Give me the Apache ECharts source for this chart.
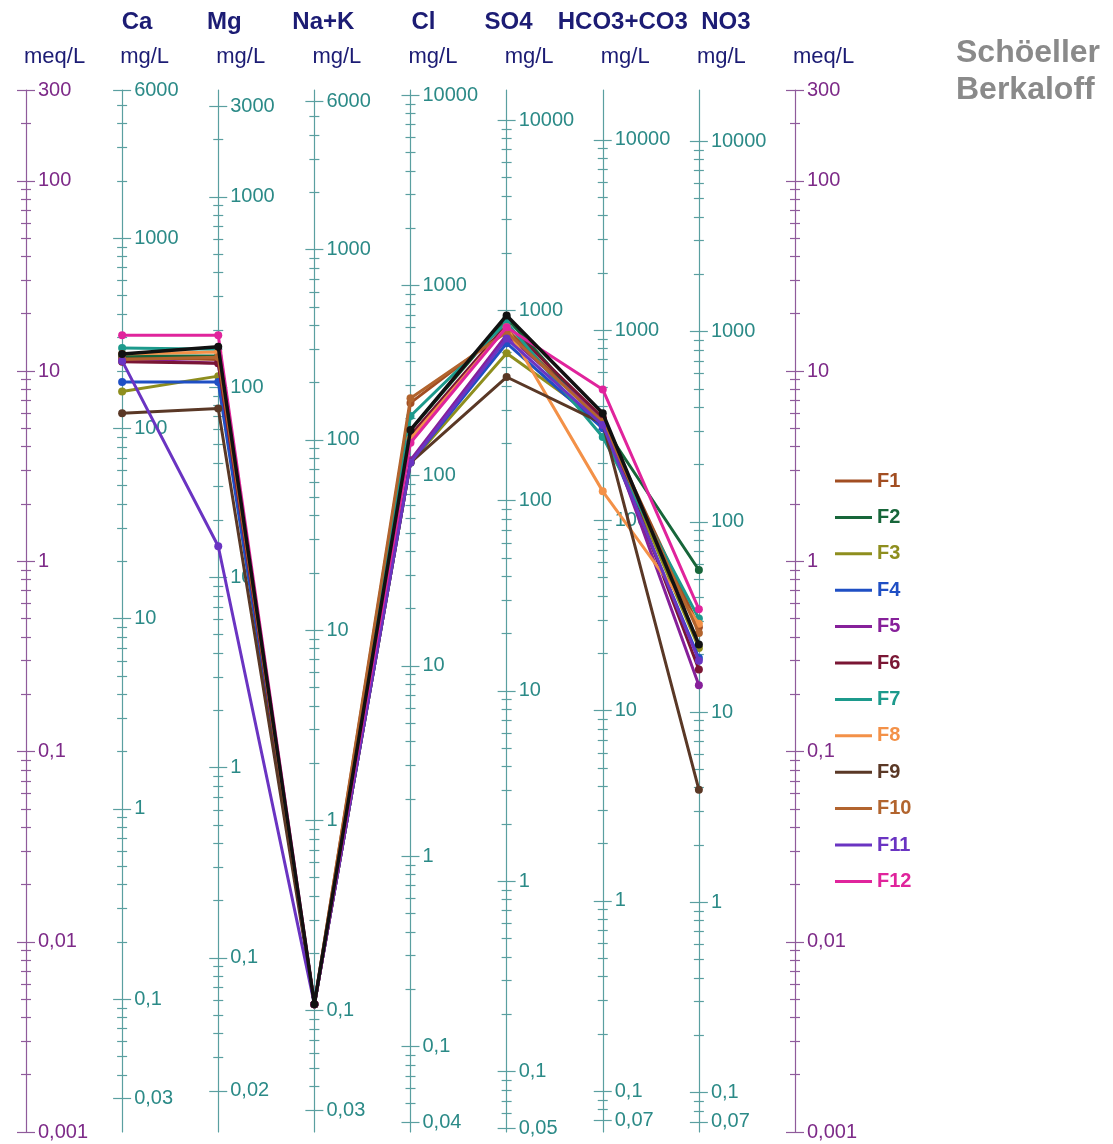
<!DOCTYPE html>
<html>
<head>
<meta charset="utf-8">
<script src="https://cdn.jsdelivr.net/npm/echarts@6/dist/echarts.min.js"></script>
<style>
  html, body { margin: 0; padding: 0; background: #ffffff; }
  #chart { width: 1113px; height: 1144px; }
</style>
</head>
<body>
<div id="chart"></div>
<script>
// Ion columns of the Schöeller-Berkaloff diagram, left to right
const ions = ['Ca', 'Mg', 'Na+K', 'Cl', 'SO4', 'HCO3+CO3', 'NO3'];
// Equivalent weights (mg per meq) used to place each mg/L scale
const eqWeights = [20.04, 12.15, 23.0, 35.45, 48.03, 61.02, 62.0];

// Labelled ticks of each scale
const meqTickLabels = [300, 100, 10, 1, 0.1, 0.01, 0.001];
const caTickLabels = [6000, 1000, 100, 10, 1, 0.1, 0.03];
const mgTickLabels = [3000, 1000, 100, 10, 1, 0.1, 0.02];
const naKTickLabels = [6000, 1000, 100, 10, 1, 0.1, 0.03];
const clTickLabels = [10000, 1000, 100, 10, 1, 0.1, 0.04];
const so4TickLabels = [10000, 1000, 100, 10, 1, 0.1, 0.05];
const hco3TickLabels = [10000, 1000, 100, 10, 1, 0.1, 0.07];
const no3TickLabels = [10000, 1000, 100, 10, 1, 0.1, 0.07];

// Samples, meq/L in ion order: Ca, Mg, Na+K, Cl, SO4, HCO3+CO3, NO3
const F1  = [11.8, 11.5, 0.0047, 6.8, 16.5, 5.5, 0.45];
const F2  = [12.0, 12.0, 0.0047, 4.9, 19.0, 5.2, 0.90];
const F3  = [7.8, 9.4, 0.0047, 3.3, 12.4, 5.4, 0.35];
const F4  = [8.75, 8.75, 0.0047, 3.3, 14.0, 5.0, 0.31];
const F5  = [11.5, 11.0, 0.0047, 3.4, 15.5, 5.6, 0.223];
const F6  = [11.2, 11.0, 0.0047, 4.6, 17.5, 5.7, 0.27];
const F7  = [13.2, 13.0, 0.0047, 5.8, 18.0, 4.5, 0.50];
const F8  = [12.3, 12.6, 0.0047, 4.4, 17.0, 2.33, 0.47];
const F9  = [6.0, 6.35, 0.0047, 3.3, 9.3, 5.3, 0.063];
const F10 = [11.5, 11.8, 0.0047, 7.2, 16.0, 5.4, 0.42];
const F11 = [11.3, 1.2, 0.0047, 3.3, 14.8, 5.2, 0.30];
const F12 = [15.4, 15.4, 0.0047, 4.2, 17.0, 8.0, 0.56];
const F13 = [12.3, 13.4, 0.0047, 4.9, 19.6, 6.0, 0.365];

const sampleNames = ['F1', 'F2', 'F3', 'F4', 'F5', 'F6', 'F7', 'F8', 'F9', 'F10', 'F11', 'F12', 'F13'];
const sampleValues = [F1, F2, F3, F4, F5, F6, F7, F8, F9, F10, F11, F12, F13];
const sampleColors = ['#a24e22', '#17663a', '#8e8e1e', '#1f4fc4', '#86209a', '#7a1634',
                      '#1c9a8c', '#f39148', '#5a3826', '#b2642e', '#6a34c2', '#e0249c', '#111111'];
const legendNames = sampleNames.slice(0, 12);

// ---- layout ----
const FONT = 'Liberation Sans, Arial, sans-serif';
const GRID = { left: 26, top: 90, width: 769, height: 1042 };
const STEP = GRID.width / 8;
const MAJOR_HALF = 9;   // half-length of labelled ticks, px
const MINOR_HALF = 5;   // half-length of sub-ticks, px
const MEQ_COLOR = { line: '#8f5b9b', label: '#7d2a88' };
const MG_COLOR = { line: '#5a9fa0', label: '#2b8a87' };
const HEADER_COLOR = '#1c1c74';
const ionHeaderNudge = [15, 6, 9, 13, 2, 20, 27];

const LOG_MIN = Math.log10(Math.min(...meqTickLabels));
const LOG_MAX = Math.log10(Math.max(...meqTickLabels));

const columns = [
  { unit: 'meq/L', w: 1, labels: meqTickLabels, colors: MEQ_COLOR },
  { unit: 'mg/L', w: eqWeights[0], labels: caTickLabels, colors: MG_COLOR },
  { unit: 'mg/L', w: eqWeights[1], labels: mgTickLabels, colors: MG_COLOR },
  { unit: 'mg/L', w: eqWeights[2], labels: naKTickLabels, colors: MG_COLOR },
  { unit: 'mg/L', w: eqWeights[3], labels: clTickLabels, colors: MG_COLOR },
  { unit: 'mg/L', w: eqWeights[4], labels: so4TickLabels, colors: MG_COLOR },
  { unit: 'mg/L', w: eqWeights[5], labels: hco3TickLabels, colors: MG_COLOR },
  { unit: 'mg/L', w: eqWeights[6], labels: no3TickLabels, colors: MG_COLOR },
  { unit: 'meq/L', w: 1, labels: meqTickLabels, colors: MEQ_COLOR }
];

// 2..9 log sub-ticks between the end labels of a scale
function minorTicks(labels) {
  const lo = Math.min(...labels), hi = Math.max(...labels);
  const out = [];
  for (let n = Math.floor(Math.log10(lo)); n <= Math.ceil(Math.log10(hi)); n++) {
    for (let k = 1; k <= 9; k++) {
      const v = k * Math.pow(10, n);
      if (v < lo * (1 - 1e-9) || v > hi * (1 + 1e-9)) continue;
      if (labels.some(l => Math.abs(l - v) <= 1e-9 * v)) continue;
      out.push(v);
    }
  }
  return out;
}

// every visible scale lives in log10(meq/L) space so all columns share one vertical mapping
const toAxis = (v, w) => Math.log10(v / w);

// a left-side scale placed `shift` px to the right of column c
function scaleAxis(c, shift, extra) {
  return Object.assign({
    type: 'value', gridIndex: 0,
    position: 'left',
    offset: -(c * STEP + shift),
    min: LOG_MIN, max: LOG_MAX,
    splitLine: { show: false },
    axisLine: { show: false },
    axisTick: { show: false },
    axisLabel: { show: false }
  }, extra);
}

const yAxes = [
  // data scale for the sample lines
  { type: 'log', logBase: 10, min: Math.min(...meqTickLabels), max: Math.max(...meqTickLabels), show: false, gridIndex: 0 }
];

columns.forEach((col, c) => {
  const majors = col.labels.map(v => toAxis(v, col.w));
  const minors = minorTicks(col.labels).map(v => toAxis(v, col.w));
  const tickStyle = { color: col.colors.line, width: 1.2 };
  const fmt = (val) => {
    let best = col.labels[0], bestD = Infinity;
    col.labels.forEach(l => {
      const d = Math.abs(toAxis(l, col.w) - val);
      if (d < bestD) { bestD = d; best = l; }
    });
    return String(best).replace('.', ',');
  };
  // column line, value labels on its right, unit name on top
  yAxes.push(scaleAxis(c, 0, {
    name: col.unit,
    nameLocation: 'end',
    nameGap: 33,
    nameTextStyle: { color: HEADER_COLOR, fontSize: 22, fontFamily: FONT, align: 'left', verticalAlign: 'middle', padding: [0, 0, 0, -2] },
    axisLine: { show: true, lineStyle: { color: col.colors.line, width: 1.2 } },
    axisLabel: { show: true, inside: true, margin: 12, customValues: majors, formatter: fmt,
                 color: col.colors.label, fontSize: 20, fontFamily: FONT, hideOverlap: false }
  }));
  // labelled ticks crossing the column line
  yAxes.push(scaleAxis(c, MAJOR_HALF, {
    axisTick: { show: true, length: 2 * MAJOR_HALF, customValues: majors, lineStyle: tickStyle }
  }));
  // sub-ticks crossing the column line
  yAxes.push(scaleAxis(c, MINOR_HALF, {
    axisTick: { show: true, length: 2 * MINOR_HALF, customValues: minors, lineStyle: tickStyle }
  }));
});

const series = sampleNames.map((name, s) => ({
  name,
  type: 'line',
  xAxisIndex: 0,
  yAxisIndex: 0,
  data: sampleValues[s].map((v, i) => [i + 1, v]),
  symbol: 'circle',
  symbolSize: 8,
  lineStyle: { color: sampleColors[s], width: s === 12 ? 3.5 : 3 },
  itemStyle: { color: sampleColors[s] },
  z: 3 + s,
  animation: false
}));

const graphic = ions.map((ion, i) => ({
  type: 'text',
  x: GRID.left + (i + 1) * STEP + ionHeaderNudge[i],
  y: 22,
  style: { text: ion, fill: HEADER_COLOR, font: 'bold 24px ' + FONT, align: 'center', verticalAlign: 'middle' },
  z: 10
}));

const chart = echarts.init(document.getElementById('chart'), null, { renderer: 'canvas' });
chart.setOption({
  backgroundColor: '#ffffff',
  animation: false,
  title: {
    text: 'Schöeller\nBerkaloff',
    left: 956, top: 35,
    padding: 0,
    textStyle: { fontSize: 32, fontWeight: 'bold', color: '#8a8a8a', lineHeight: 37, fontFamily: FONT }
  },
  legend: {
    data: legendNames.map((n, i) => ({ name: n, textStyle: { color: sampleColors[i] } })),
    orient: 'vertical',
    left: 835, top: 471,
    padding: 0,
    icon: 'rect',
    itemWidth: 37, itemHeight: 3,
    itemGap: 16.4,
    selectedMode: false,
    textStyle: { fontSize: 20, fontWeight: 'bold', fontFamily: FONT, lineHeight: 20 }
  },
  grid: Object.assign({ containLabel: false, outerBoundsMode: 'none' }, GRID),
  xAxis: { type: 'value', min: 0, max: 8, show: false, gridIndex: 0 },
  yAxis: yAxes,
  series,
  graphic
});
</script>
</body>
</html>
